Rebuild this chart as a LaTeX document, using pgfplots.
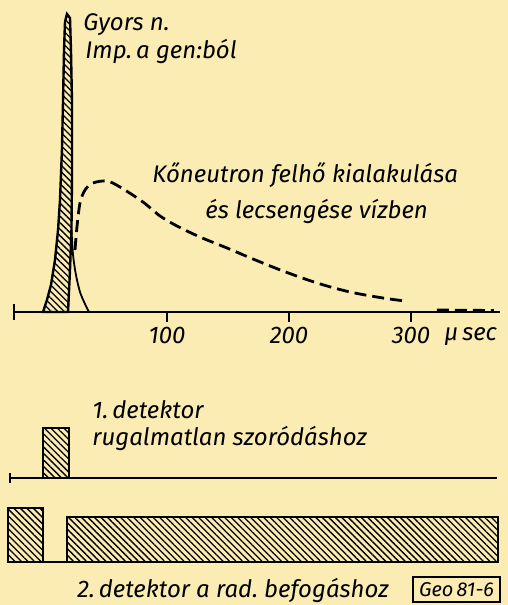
\documentclass[border=0pt]{standalone}
\usepackage{pgfplots}
\pgfplotsset{compat=1.18}
\usetikzlibrary{patterns.meta}
\usepackage{fontspec}
\setmainfont{Fira Sans}
\definecolor{paper}{RGB}{251,236,180}
\newcommand{\lab}{\fontsize{12}{14}\selectfont\itshape}
\tikzset{hatch/.style={pattern={Lines[angle=-45,distance=2.3pt,line width=0.65pt]}}}
\pgfplotsset{det/.style={anchor=south west, x=0.61pt, y=0.5pt, clip=false,
  axis x line=bottom, axis y line=none, axis line style={-, line width=1pt, black},
  xtick=\empty, ymin=0, ymax=60}}
\begin{document}
\begin{tikzpicture}
\path[use as bounding box, fill=paper] (0pt,0pt) rectangle (254pt,-302.5pt);
% ---------- top panel ----------
\begin{axis}[at={(7pt,-156pt)}, anchor=south west, x=0.61pt, y=0.5pt,
  xmin=-25.4, xmax=373, ymin=0, ymax=305, clip=false,
  axis x line=bottom, axis y line=none, axis line style={-, line width=1pt, black},
  xtick={100,200,300}, xticklabels={100,200,300},
  tick align=outside, major tick length=5pt, tick style={line width=1pt, black},
  xticklabel style={font=\lab, anchor=north, yshift=1pt},
  extra x ticks={-25.4}, extra x tick labels={},
  extra x tick style={tick align=center, major tick length=8pt}]
% hatched spike
\addplot[draw=black, line width=1.2pt, hatch] coordinates {
 (-1.6,0) (1.6,12) (4.9,27) (8.2,52) (10.7,82) (12.3,112) (13.9,162)
 (14.8,212) (15.6,262) (16.4,290) (18.0,298) (20.5,294) (21.3,262)
 (22.1,212) (22.1,132) (21.7,82) (20.5,42) (18.9,0)} -- cycle;
% thin tail of the spike
\addplot[black, line width=0.9pt, smooth] coordinates {
 (21.7,82) (23.0,57) (25.4,37) (28.7,20) (32.8,8) (36.1,0)};
% dashed curve
\addplot[black, line width=1.4pt, smooth, dash pattern=on 6pt off 3pt] coordinates {
 (24.6,62) (26.2,85) (28.7,109) (32.8,122) (39.3,129) (50.8,131) (61.5,125)
 (80.3,110) (94.3,96) (108.2,86) (127.0,75) (149.2,64) (170.5,53) (195.1,41)
 (223.0,29) (250.0,20) (277.0,14) (295.1,11)};
\addplot[black, line width=1.4pt, dash pattern=on 6pt off 3pt] coordinates {
 (321.3,2) (368.0,1.5)};
\end{axis}
% ---------- detector 1 ----------
\begin{axis}[det, at={(5pt,-239pt)}, xmin=-28.7, xmax=370.5,
  extra x ticks={-28.7}, extra x tick labels={},
  extra x tick style={tick align=center, major tick length=5pt, tick style={line width=1pt, black}}]
\addplot[draw=black, line width=1.2pt, hatch] coordinates {
 (-1.6,0) (-1.6,50) (19.7,50) (19.7,0)} -- cycle;
\end{axis}
% ---------- detector 2 ----------
\begin{axis}[det, at={(4pt,-281pt)}, xmin=-30.3, xmax=371.3]
\addplot[draw=black, line width=1.2pt, hatch] coordinates {
 (-30.3,0) (-30.3,54) (-1.6,54) (-1.6,0)} -- cycle;
\addplot[draw=black, line width=1.2pt, hatch] coordinates {
 (18.0,0) (18.0,45) (371.3,45) (371.3,0)} -- cycle;
\end{axis}
% ---------- labels ----------
\begin{scope}[every node/.style={font=\lab, inner sep=0pt, anchor=base west}]
\node at (41.5pt,-15pt) {Gyors n.};
\node at (42.5pt,-29pt) {Imp.\,a gen:ból};
\node at (76pt,-91pt) {Kőneutron felhő kialakulása};
\node at (102.5pt,-109pt) {és lecsengése vízben};
\node at (222pt,-170pt) {μ\,sec};
\node at (46pt,-209pt) {1.\,detektor};
\node at (46pt,-222.5pt) {rugalmatlan szoródáshoz};
\node at (38.5pt,-298.5pt) {2.\,detektor a rad.\ befogáshoz};
\end{scope}
\draw[line width=0.8pt] (206.5pt,-288.5pt) rectangle (250pt,-301pt);
\node[font=\fontsize{10}{12}\selectfont\itshape, inner sep=0pt] at (228.25pt,-294.75pt) {Geo\,81-6};
\end{tikzpicture}
\end{document}
